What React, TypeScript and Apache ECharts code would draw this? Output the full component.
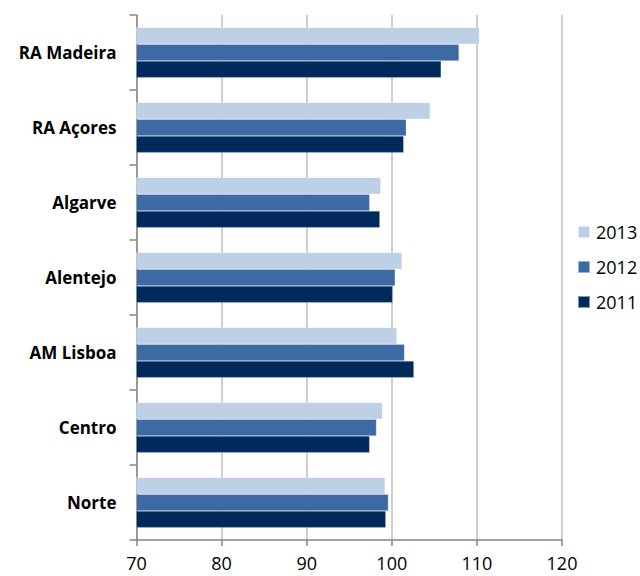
import React, { useEffect, useRef } from "react";
import * as echarts from "echarts";

const categories = ["Norte", "Centro", "AM Lisboa", "Alentejo", "Algarve", "RA Açores", "RA Madeira"];
const years = ["2013", "2012", "2011"];
const values2013 = [99.2, 98.9, 100.6, 101.2, 98.7, 104.5, 110.3];
const values2012 = [99.6, 98.2, 101.5, 100.4, 97.4, 101.7, 107.9];
const values2011 = [99.3, 97.4, 102.6, 100.1, 98.6, 101.4, 105.8];
const colors = ["#BED0E6", "#3D6AA2", "#002A5C"];

export default function App() {
  const ref = useRef<HTMLDivElement>(null);
  useEffect(() => {
    if (!ref.current) return;
    const chart = echarts.init(ref.current, null, { renderer: "svg" });
    const font = "'Open Sans', 'Liberation Sans', sans-serif";
    const seriesData = [values2013, values2012, values2011];
    chart.setOption({
      animation: false,
      backgroundColor: "#ffffff",
      textStyle: { fontFamily: font },
      legend: {
        orient: "vertical",
        left: 577,
        top: 223,
        padding: 0,
        itemWidth: 12,
        itemHeight: 12,
        itemGap: 17,
        icon: "rect",
        data: years,
        textStyle: { fontSize: 18, color: "#000", fontFamily: font, padding: [0, 0, 0, 1] },
      },
      grid: { left: 136.5, right: 78, top: 15, bottom: 36, containLabel: false },
      xAxis: {
        type: "value",
        min: 70,
        max: 120,
        interval: 10,
        axisLine: { show: true, lineStyle: { color: "#868686", width: 1.5 } },
        axisTick: { show: true, length: 6, lineStyle: { color: "#868686", width: 1.5 } },
        axisLabel: { fontSize: 18, lineHeight: 18, color: "#000", margin: 14, fontFamily: font },
        splitLine: { show: true, lineStyle: { color: "#BEBEBE", width: 1.5 } },
      },
      yAxis: {
        type: "category",
        data: categories,
        axisLine: { show: true, lineStyle: { color: "#868686", width: 1.5 } },
        axisTick: { show: true, length: 7, alignWithLabel: false, lineStyle: { color: "#868686", width: 1.5 } },
        axisLabel: { fontSize: 17, fontWeight: "bold", color: "#000", margin: 20, fontFamily: font },
      },
      series: years.map((y, i) => ({
        name: y,
        type: "bar",
        data: seriesData[i],
        barGap: "0%",
        barCategoryGap: "33%",
        itemStyle: { color: colors[i], borderColor: "rgba(255,255,255,0.5)", borderWidth: 0.5 },
      })),
    });
    return () => chart.dispose();
  }, []);
  return <div ref={ref} style={{ position: "fixed", left: 0, top: 0, width: 640, height: 576 }} />;
}
